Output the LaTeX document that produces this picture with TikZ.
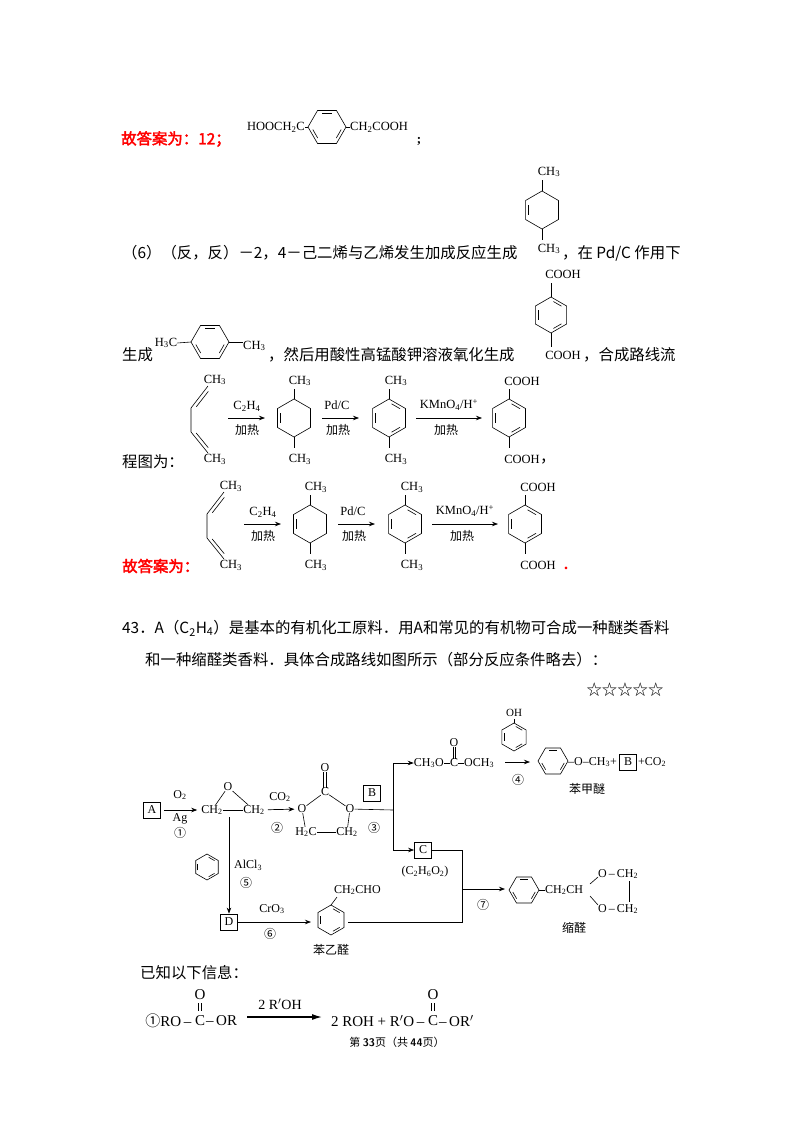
\documentclass[tikz,border=0pt]{standalone}
\usepackage{fontspec}
\setmainfont{Liberation Serif}
\newfontfamily\cjk{Noto Sans CJK SC}
\newfontfamily\cjkbf[FakeBold=2.5]{Noto Sans CJK SC}
\usetikzlibrary{arrows.meta,calc}
\newcommand\ssb[1]{\textsubscript{#1}}
\newcommand\hexr[4]{%
 \draw[bond,shift={(#1)}] ({#3}:#2) -- ({#3+60}:#2) -- ({#3+120}:#2) -- ({#3+180}:#2) -- ({#3+240}:#2) -- ({#3+300}:#2) -- cycle;
 \foreach \k in {#4}{\draw[bond,shift={(#1)}] ({#3+60*\k+10}:{0.76*#2}) -- ({#3+60*\k+50}:{0.76*#2});}}
\tikzset{
 bond/.style={line width=0.6pt},
 arr/.style={line width=0.7pt,-{Stealth[length=6pt,width=4.5pt]}},
 body/.style={anchor=west,inner sep=0,font=\cjk\fontsize{15.4}{15.4}\selectfont},
 redt/.style={anchor=west,inner sep=0,text=red,font=\cjkbf\fontsize{15.4}{15.4}\selectfont},
 chem/.style={inner sep=0,font=\fontsize{12.5}{12.5}\selectfont},
 cn/.style={inner sep=0,font=\cjk\fontsize{12}{12}\selectfont},
 sm/.style={inner sep=0,font=\fontsize{12}{12}\selectfont},
 box/.style={draw,line width=0.8pt,minimum width=17pt,minimum height=16pt,inner sep=0,font=\fontsize{12}{12}\selectfont},
 eq/.style={inner sep=0,font=\fontsize{15}{15}\selectfont},
}
\newcommand\rxn[3]{\begin{scope}[shift={(#1,#2)}]
 \node[chem] (da#3) at (215,380) {CH\ssb3};
 \draw[bond] (208,386) -- (191,408) -- (191,432) -- (208,453);
 \draw[bond] (208.3,391.4) -- (196.3,406.8);
 \draw[bond] (196.2,433) -- (208.2,447.6);
 \node[chem] (db#3) at (215,459) {CH\ssb3};
 \coordinate (a1s#3) at (228,418); \coordinate (a1e#3) at (265,418);
 \draw[arr] (a1s#3) -- (a1e#3);
 \node[chem] (c2h4#3) at (247,406) {C\ssb2H\ssb4}; \node[cn] (h1#3) at (247,430) {加热};
 \hexr{294,418}{19}{90}{1}
 \draw[bond] (294,399)--(294,389); \node[chem] (ea#3) at (300,381){CH\ssb3};
 \draw[bond] (294,437)--(294,448); \node[chem] (eb#3) at (300,459){CH\ssb3};
 \coordinate (a2s#3) at (322,418); \coordinate (a2e#3) at (359,418);
 \draw[arr] (a2s#3) -- (a2e#3);
 \node[chem] (pd#3) at (337,405){Pd/C}; \node[cn] (h2#3) at (338,430){加热};
 \hexr{389,418}{19}{90}{1,3,5}
 \draw[bond] (389,399)--(389,389); \node[chem] (ta#3) at (396,381){CH\ssb3};
 \draw[bond] (389,437)--(389,448); \node[chem] (tb#3) at (396,459){CH\ssb3};
 \coordinate (a3s#3) at (416,418); \coordinate (a3e#3) at (482,418);
 \draw[arr] (a3s#3) -- (a3e#3);
 \node[chem] (km#3) at (449,405){KMnO\ssb4/H\textsuperscript{+}}; \node[cn] (h3#3) at (446,430){加热};
 \hexr{509,418}{19}{90}{1,3,5}
 \draw[bond] (509,399)--(509,389); \node[chem] (pa#3) at (522,381){COOH};
 \draw[bond] (509,437)--(509,448); \node[chem] (pb#3) at (522,459){COOH};
\end{scope}}
\begin{document}
\begin{tikzpicture}[x=1pt,y=-1pt]
\useasboundingbox[fill=white] (0,0) rectangle (800,1132);
% line 1
\node[redt] (ans1) at (121,139) {故答案为：12；};
\hexr{327,127}{19}{0}{0,2,4}
\node[chem,anchor=east] (hooc) at (305,127) {HOOCH\ssb2C};
\draw[bond] (hooc.east) -- (308,127);
\node[chem,anchor=west] (chco) at (350,127) {CH\ssb2COOH};
\draw[bond] (346,127) -- (chco.west);
\node[chem,font=\bfseries\fontsize{13}{13}\selectfont] (semi) at (419,141) {;};
% line 2
\node[body] (t2) at (122,253) {（6）（反，反）－2，4－己二烯与乙烯发生加成反应生成};
\hexr{542,210}{19}{90}{1}
\draw[bond] (542,191)--(542,180); \node[chem] (m1) at (549,172){CH\ssb3};
\draw[bond] (542,229)--(542,240); \node[chem] (m2) at (549,249){CH\ssb3};
\node[body] (t2b) at (562,253) {，在 Pd/C 作用下};
% line 3
\node[body] (t3) at (122,355) {生成};
\node[chem] (h3c) at (166,343) {H\ssb3C};
\hexr{210,342}{19}{0}{0,2,4}
\draw[bond] (h3c.east) -- (191,342);
\draw[bond] (229,342) -- (243,342);
\node[chem,anchor=west] (m3) at (243,346) {CH\ssb3};
\node[body] (t3b) at (268,355) {，然后用酸性高锰酸钾溶液氧化生成};
\hexr{551,315}{18}{90}{1,3,5}
\draw[bond] (551,297)--(551,283); \node[chem] (m4) at (563,274){COOH};
\draw[bond] (551,333)--(551,347); \node[chem] (m5) at (563,355){COOH};
\node[body] (t3c) at (583,355) {，合成路线流};
% line 4
\node[body] (t4) at (122,462) {程图为：};
\rxn{0}{0}{x}
\node[body] (comma) at (540,462) {，};
\node[redt] (ans2) at (122,566) {故答案为：};
\rxn{16}{106}{y}
\node[text=red,inner sep=0,font=\bfseries\fontsize{16}{16}\selectfont] (dot) at (566,568) {.};
% question
\node[body] (q1) at (122,628) {43．A（C\ssb2H\ssb4）是基本的有机化工原料．用A和常见的有机物可合成一种醚类香料};
\node[body] (q2) at (145,660) {和一种缩醛类香料．具体合成路线如图所示（部分反应条件略去）：};
\node[body,anchor=center] (stars) at (625,690) {☆☆☆☆☆};
% scheme 3
\node[box] (A) at (152,810) {A};
\node[sm] (eL) at (212,810) {CH\ssb2};
\node[sm] (eR) at (254,810) {CH\ssb2};
\node[sm] (eO) at (228,787) {O};
\draw[bond] (eO) -- (eL); \draw[bond] (eO) -- (eR); \draw[bond] (eL) -- (eR);
\draw[arr,shorten <=3pt,shorten >=4pt] (A) -- (eL);
\node[sm] (o2) at (180,795) {O\ssb2}; \node[sm] (ag) at (180,819) {Ag}; \node[cn] (n1) at (180,833) {①};
\node[sm] (cO) at (325,768) {O};
\node[sm] (cC) at (325,792) {C};
\node[sm] (cOl) at (302,809) {O};
\node[sm] (cOr) at (350,809) {O};
\node[sm] (cHl) at (306,832) {H\ssb2C};
\node[sm] (cHr) at (347,832) {CH\ssb2};
\draw[bond] ([xshift=-1.4pt]cO.south) -- ([xshift=-1.4pt]cC.north);
\draw[bond] ([xshift=1.4pt]cO.south) -- ([xshift=1.4pt]cC.north);
\draw[bond] (cC) -- (cOl); \draw[bond] (cC) -- (cOr);
\draw[bond] (cOl) -- (cHl); \draw[bond] (cOr) -- (cHr); \draw[bond] (cHl) -- (cHr);
\draw[arr,shorten <=3pt,shorten >=3pt] (eR) -- (cOl);
\node[sm] (co2) at (280,797) {CO\ssb2}; \node[cn] (n2) at (277,828) {②};
\node[box] (B) at (372,793) {B};
\node[cn] (n3) at (374,828) {③};
\coordinate (j3) at (393,810); \coordinate (j3t) at (393,763); \coordinate (j3b) at (393,850);
\draw[bond] (cOr) -- (j3); \draw[bond] (j3t) -- (j3b);
\node[sm,anchor=east] (dL) at (444,763) {CH\ssb3O};
\node[sm] (dC) at (454,763) {C};
\node[sm,anchor=west] (dR) at (464,763) {OCH\ssb3};
\node[sm] (dO) at (454,743) {O};
\draw[bond] (dL) -- (dC); \draw[bond] (dC) -- (dR);
\draw[bond] ([xshift=-1.2pt]dO.south) -- ([xshift=-1.2pt]dC.north);
\draw[bond] ([xshift=1.2pt]dO.south) -- ([xshift=1.2pt]dC.north);
\draw[arr] (j3t) -- (dL);
\node[box] (C) at (423,850) {C};
\draw[arr] (j3b) -- (C);
\node[sm] (c2h6) at (425,872) {(C\ssb2H\ssb6O\ssb2)};
\coordinate (a4s) at (505,762); \coordinate (a4e) at (530,762);
\draw[arr] (a4s) -- (a4e);
\hexr{514,737}{14}{90}{1,3,5}
\draw[bond] (514,723) -- (514,719);
\node[sm,font=\fontsize{11}{11}\selectfont] (oh) at (514,713) {OH};
\node[cn] (n4) at (518,780) {④};
\hexr{553,761}{15}{0}{0,2,4}
\node[sm,anchor=west] (ani) at (568,762) {–O–CH\ssb3+};
\node[box] (B2) at (628,762) {B};
\node[sm,anchor=west] (pco2) at (638,762) {+CO\ssb2};
\node[cn] (ben1) at (587,789) {苯甲醚};
% lower branch
\coordinate (v1) at (229,817);
\node[box] (D) at (229,922) {D};
\draw[arr] (v1) -- (D);
\hexr{207,867}{13}{90}{1,3,5}
\node[sm,anchor=west] (alcl) at (234,865) {AlCl\ssb3};
\node[cn] (n5) at (246,883) {⑤};
\hexr{331,920}{15}{90}{1,3,5}
\draw[arr] (D) -- (311,922);
\node[sm] (cro) at (272,909) {CrO\ssb3}; \node[cn] (n6) at (270,934) {⑥};
\draw[bond] (331,905) -- (337,897);
\node[sm,anchor=west] (cho) at (334,890) {CH\ssb2CHO};
\node[cn] (ben2) at (331,950) {苯乙醛};
\coordinate (j7a) at (462,850); \coordinate (j7b) at (462,922); \coordinate (j7) at (462,889);
\draw[bond] (C.east) -- (j7a) -- (j7b) -- (348,922);
\draw[arr] (j7) -- (505,889);
\node[cn] (n7) at (483,905) {⑦};
\hexr{524,890}{15}{0}{0,2,4}
\draw[bond] (539,890) -- (545,890);
\node[sm,anchor=west] (chch) at (545,890) {CH\ssb2CH};
\node[sm,anchor=west] (ot) at (598,874) {O\,–\,CH\ssb2};
\node[sm,anchor=west] (ob) at (598,909) {O\,–\,CH\ssb2};
\draw[bond] (590,884) -- (598,877);
\draw[bond] (590,896) -- (598,905);
\draw[bond] (629,881) -- (629,902);
\node[cn] (suo) at (574,928) {缩醛};
% known info
\node[body] (known) at (140,973) {已知以下信息：};
\node[eq,anchor=east] (e1) at (194,1021) {{\cjk ①}RO\,–\,};
\node[eq] (e1c) at (200,1021) {C};
\node[eq,anchor=west] (e1r) at (206,1021) {–\,OR};
\node[eq] (e1o) at (200,995) {O};
\draw[bond,line width=0.8pt] (198.5,1003) -- (198.5,1011); \draw[bond,line width=0.8pt] (201.5,1003) -- (201.5,1011);
\coordinate (ea) at (247,1017); \coordinate (eb) at (322,1017);
\draw[line width=1.3pt,-{Latex[length=10pt,width=6pt]}] (ea) -- (eb);
\node[eq,font=\fontsize{14}{14}\selectfont] (rp) at (280,1004) {2 R$'$OH};
\node[eq,anchor=east] (e2) at (427,1021) {2 ROH + R$'$O\,–\,};
\node[eq] (e2c) at (433,1021) {C};
\node[eq,anchor=west] (e2r) at (439,1021) {–\,OR$'$};
\node[eq] (e2o) at (433,995) {O};
\draw[bond,line width=0.8pt] (431.5,1003) -- (431.5,1011); \draw[bond,line width=0.8pt] (434.5,1003) -- (434.5,1011);
\node[inner sep=0,font=\cjk\fontsize{11}{11}\selectfont] (foot) at (397,1042) {第 {\sffamily\bfseries 33}页（共 {\sffamily\bfseries 44}页）};
\end{tikzpicture}
\end{document}
